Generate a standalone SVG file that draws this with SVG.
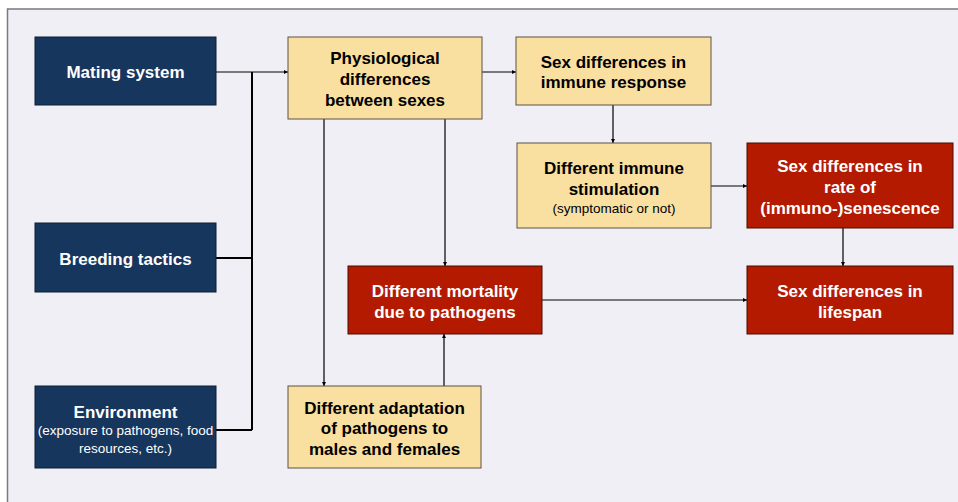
<svg xmlns="http://www.w3.org/2000/svg" width="958" height="502" viewBox="0 0 958 502">
<style>
.navy{fill:#17365d;stroke:#0d1e33;stroke-width:1}
.yel{fill:#f9dfa0;stroke:#5a5244;stroke-width:1}
.red{fill:#b31a00;stroke:#4a0a00;stroke-width:1}
text{font-family:"Liberation Sans",Arial,sans-serif;font-weight:bold;font-size:17px;text-anchor:middle}
.w{fill:#ffffff}
.b{fill:#000000}
.s{font-weight:normal;font-size:13.5px}
.ln{fill:none;stroke:#000;stroke-width:1.2}
.bus{fill:none;stroke:#000;stroke-width:2}
</style>
<defs>
<marker id="ah" viewBox="0 0 6 6" refX="6" refY="3" markerWidth="4" markerHeight="4" orient="auto" markerUnits="userSpaceOnUse">
<path d="M0,0 L6,3 L0,6 z" fill="#000"/>
</marker>
</defs>
<rect x="0" y="0" width="958" height="502" fill="#ffffff"/>
<rect x="7.5" y="9" width="960" height="510" fill="#f0eff5" stroke="#7a7a7a" stroke-width="1.5"/>
<g id="connectors">
<path class="ln" d="M216,72 H288" marker-end="url(#ah)"/>
<path class="bus" d="M252,72 V430"/>
<path class="bus" d="M216,258 H252"/>
<path class="bus" d="M216,430 H252"/>
<path class="ln" d="M482,72 H516" marker-end="url(#ah)"/>
<path class="ln" d="M324,119 V386" marker-end="url(#ah)"/>
<path class="ln" d="M445,119 V266" marker-end="url(#ah)"/>
<path class="ln" d="M444,386 V334" marker-end="url(#ah)"/>
<path class="ln" d="M613,105 V143" marker-end="url(#ah)"/>
<path class="ln" d="M711,186 H747" marker-end="url(#ah)"/>
<path class="ln" d="M843,228 V266" marker-end="url(#ah)"/>
<path class="ln" d="M542,300 H747" marker-end="url(#ah)"/>
</g>
<g id="mating">
<rect class="navy" x="35" y="37" width="181" height="68"/>
<text class="w" x="125.5" y="78">Mating system</text>
</g>
<g id="breeding">
<rect class="navy" x="35" y="223" width="181" height="69"/>
<text class="w" x="125.5" y="265">Breeding tactics</text>
</g>
<g id="environment">
<rect class="navy" x="35" y="386" width="181" height="82"/>
<text class="w" x="125.5" y="418">Environment</text>
<text class="w s" x="125.5" y="435">(exposure to pathogens, food</text>
<text class="w s" x="125.5" y="453">resources, etc.)</text>
</g>
<g id="physiological">
<rect class="yel" x="288" y="37" width="194" height="82"/>
<text class="b" x="385" y="64">Physiological</text>
<text class="b" x="385" y="85">differences</text>
<text class="b" x="385" y="106">between sexes</text>
</g>
<g id="immune-response">
<rect class="yel" x="516" y="37" width="195" height="68"/>
<text class="b" x="613.5" y="68">Sex differences in</text>
<text class="b" x="613.5" y="88">immune response</text>
</g>
<g id="immune-stimulation">
<rect class="yel" x="517" y="143" width="194" height="85"/>
<text class="b" x="614" y="174">Different immune</text>
<text class="b" x="614" y="195">stimulation</text>
<text class="b s" x="614" y="213">(symptomatic or not)</text>
</g>
<g id="senescence">
<rect class="red" x="747" y="143" width="206" height="85"/>
<text class="w" x="850" y="172">Sex differences in</text>
<text class="w" x="850" y="193">rate of</text>
<text class="w" x="850" y="214">(immuno-)senescence</text>
</g>
<g id="mortality">
<rect class="red" x="348" y="266" width="194" height="68"/>
<text class="w" x="445" y="297">Different mortality</text>
<text class="w" x="445" y="318">due to pathogens</text>
</g>
<g id="lifespan">
<rect class="red" x="747" y="266" width="206" height="68"/>
<text class="w" x="850" y="297">Sex differences in</text>
<text class="w" x="850" y="318">lifespan</text>
</g>
<g id="adaptation">
<rect class="yel" x="288" y="386" width="193" height="82"/>
<text class="b" x="384.5" y="414">Different adaptation</text>
<text class="b" x="384.5" y="434">of pathogens to</text>
<text class="b" x="384.5" y="455">males and females</text>
</g>
</svg>
